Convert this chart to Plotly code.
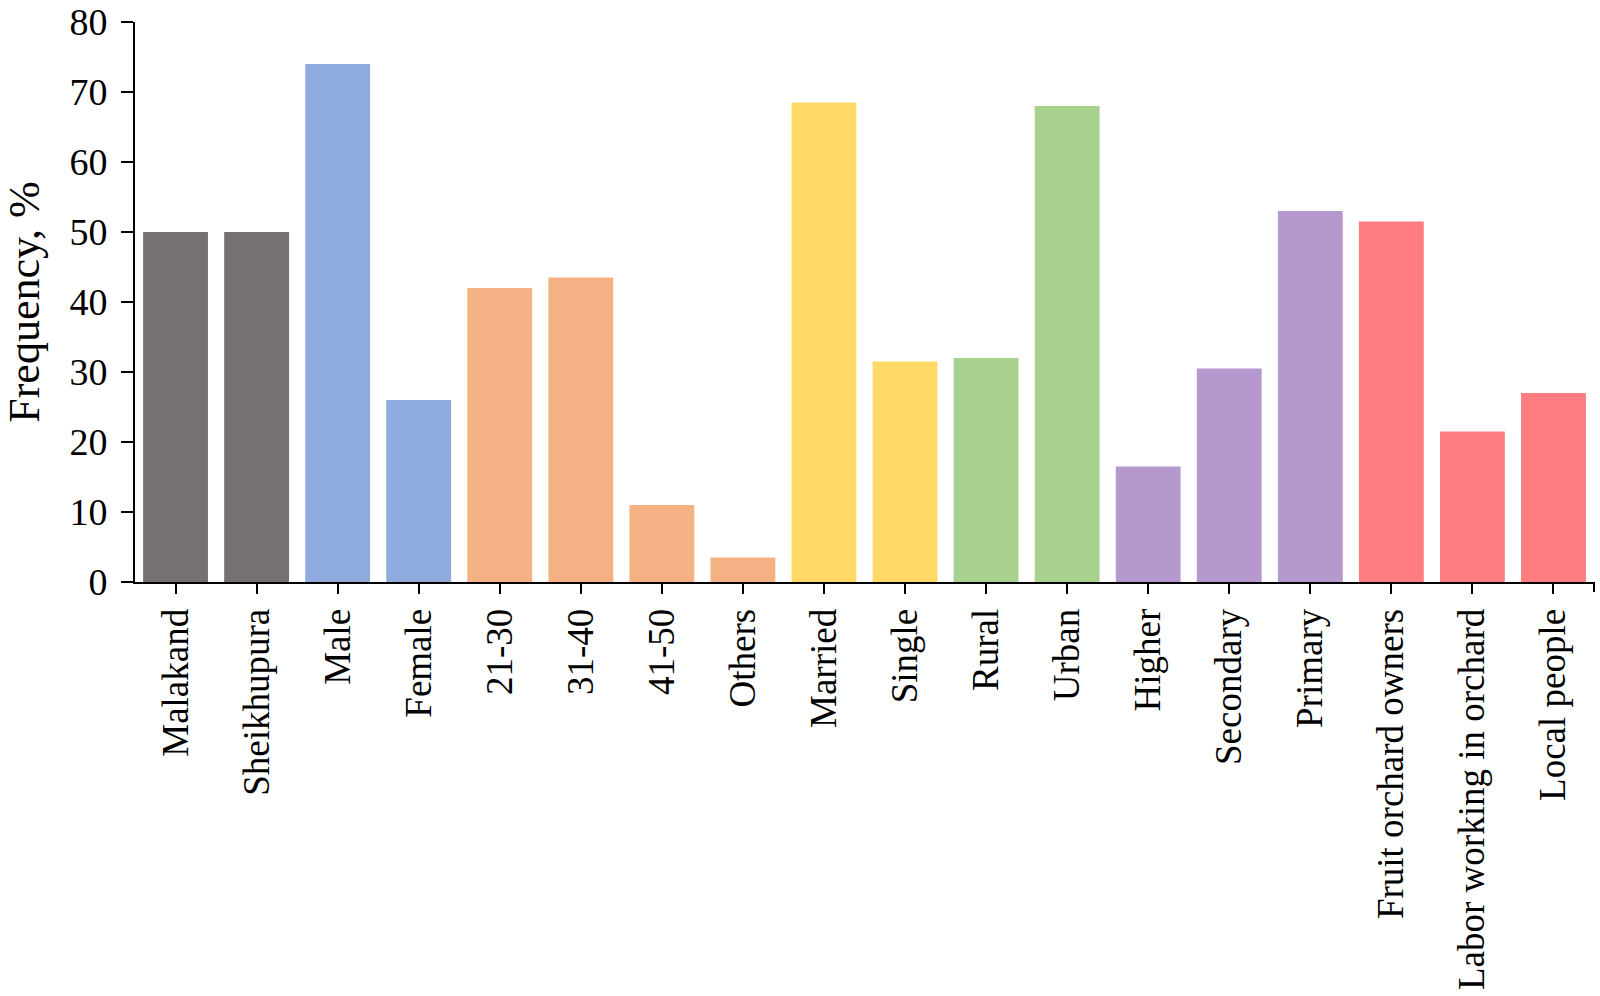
import plotly.graph_objects as go

categories = ["Malakand", "Sheikhupura", "Male", "Female", "21-30", "31-40", "41-50",
              "Others", "Married", "Single", "Rural", "Urban", "Higher", "Secondary",
              "Primary", "Fruit orchard owners", "Labor working in orchard", "Local people"]
values = [50, 50, 74, 26, 42, 43.5, 11, 3.5, 68.5, 31.5, 32, 68, 16.5, 30.5, 53, 51.5, 21.5, 27]
groups = ["region", "region", "gender", "gender", "age", "age", "age", "age",
          "marital", "marital", "residence", "residence", "edu", "edu", "edu",
          "role", "role", "role"]
group_colors = {"region": "#767171", "gender": "#8FAADC", "age": "#F4B183",
                "marital": "#FFD966", "residence": "#A9D18E", "edu": "#B498CE",
                "role": "#FF7C80"}
y_ticks = [0, 10, 20, 30, 40, 50, 60, 70, 80]

colors = [group_colors[g] for g in groups]
FONT = "Liberation Serif, Times New Roman, serif"

fig = go.Figure(go.Bar(x=categories, y=values, marker=dict(color=colors, line=dict(width=0)),
                       width=0.8))

fig.update_layout(
    width=1600, height=996,
    margin=dict(l=135, r=6, t=22, b=414, autoexpand=False),
    plot_bgcolor="white", paper_bgcolor="white",
    font=dict(family=FONT, size=37, color="black"),
    showlegend=False,
)
fig.update_xaxes(
    type="category", range=[-0.5, 17.5], tickangle=-90,
    showline=True, linecolor="black", linewidth=2,
    ticks="outside", ticklen=10, tickwidth=2, tickcolor="black",
    showgrid=False, automargin=False, tickfont=dict(size=37),
)
fig.update_yaxes(
    range=[0, 80], tickvals=y_ticks, ticklabeloverflow="allow",
    showline=True, linecolor="black", linewidth=2,
    ticks="outside", ticklen=12, tickwidth=2, tickcolor="black",
    showgrid=False, zeroline=False, automargin=False, tickfont=dict(size=38),
    ticklabelstandoff=6,
    title=dict(text="Frequency, %", font=dict(size=44), standoff=43),
)
fig.add_shape(type="line", xref="paper", yref="paper", x0=1, x1=1, y0=0, y1=-10/560,
              line=dict(color="black", width=2))

fig.write_html("out.html", config={"displayModeBar": False},
               post_script="document.body.style.margin='0';")
